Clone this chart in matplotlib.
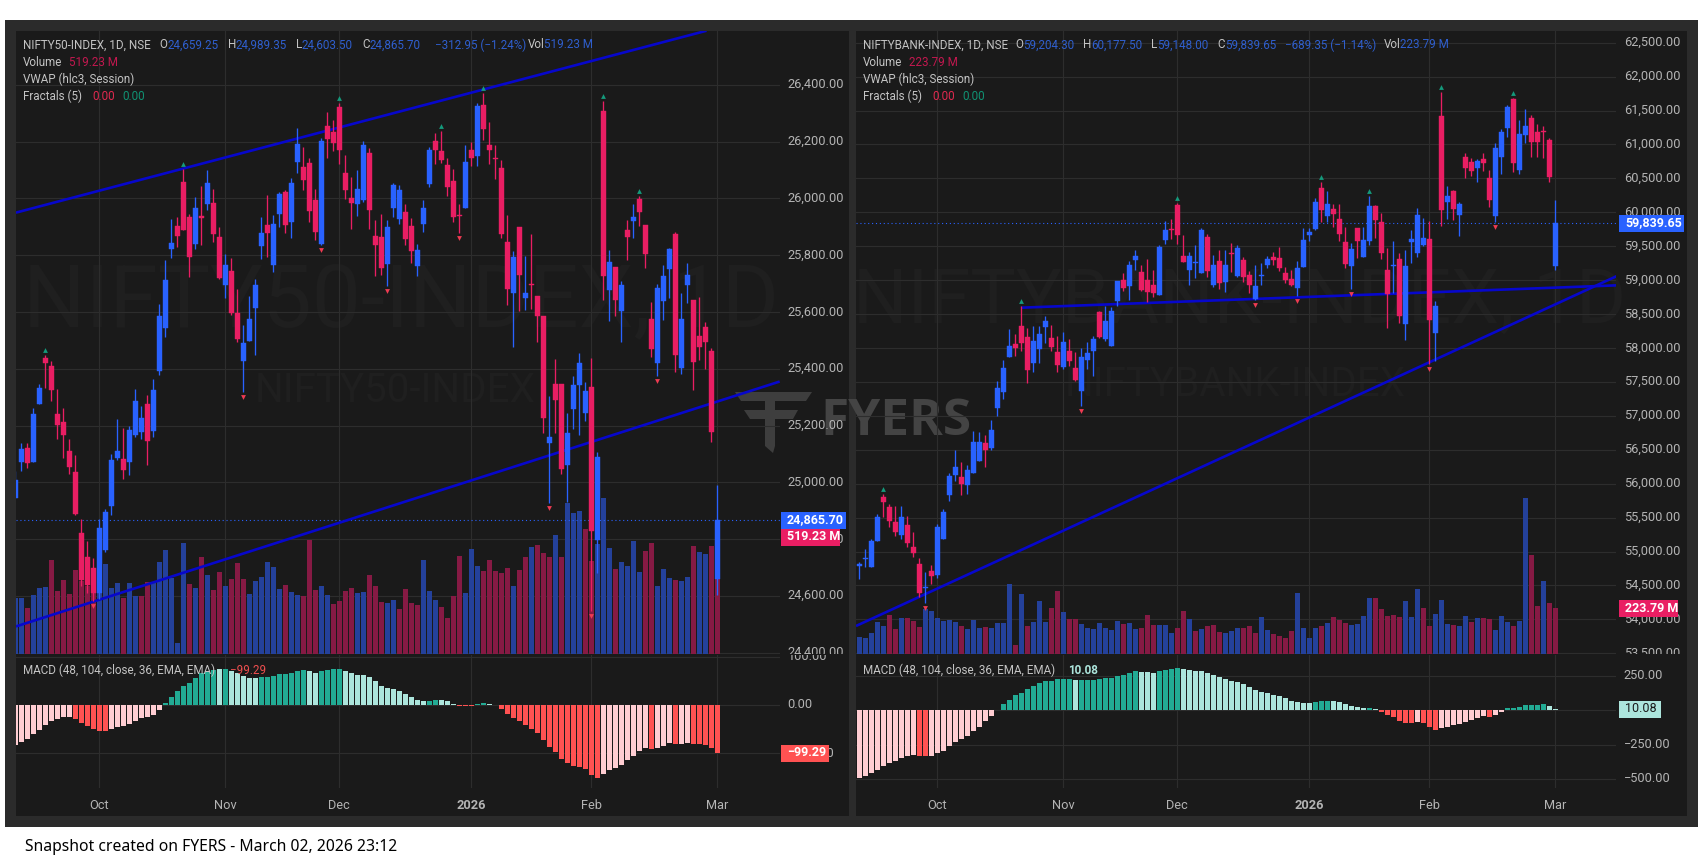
import matplotlib
matplotlib.use("Agg")
import matplotlib.pyplot as plt
from matplotlib.patches import Rectangle, Polygon
from matplotlib.transforms import Bbox, ScaledTranslation

W, H = 1703, 867
plt.rcParams['font.family'] = ['Roboto', 'DejaVu Sans']

# ---------- NIFTY50 ----------
left_open = [24944,25071,25120,25071,25275,25439,25411,25240,25212,25110,
25036,24822,24735,24697,24610,24760,24918,25084,25082,25071,
25166,25177,25277,25180,25391,25544,25821,25903,26058,25933,
25839,25938,25979,25983,25863,25696,25745,25597,25429,25499,
25615,25833,25905,25765,25945,26022,25917,26130,26110,26124,
25996,25838,26257,26234,26322,26088,26003,25980,25996,26160,
25868,25864,25769,25968,25929,25952,25903,25763,25910,26052,
26203,26168,26119,26062,25943,25968,26172,26150,26329,26188,
26143,26106,25845,25667,25900,25648,25700,25656,25585,25139,
25345,25345,25060,25257,25341,25244,25335,24797,26309,25678,
25760,25605,25889,25920,25998,25907,25576,25420,25637,25751,
25875,25404,25695,25642,25514,25546,25462,24659.25]
left_close = [25008,25116,25068,25240,25331,25419,25324,25201,25166,25054,
24888,24654,24637,24610,24840,24896,25078,25110,25043,25184,
25285,25228,25145,25324,25587,25713,25842,25868,25889,25795,
25965,25931,26053,25875,25720,25765,25597,25506,25491,25577,
25695,25877,25880,25910,26015,25906,26053,26192,26065,25957,
25881,26203,26209,26196,26171,26029,25985,26032,26190,25959,
25836,25754,25898,26047,26030,25858,25816,25819,25965,26171,
26171,26135,26040,25934,25939,26130,26141,26325,26244,26172,
26139,25875,25681,25792,25731,25667,25696,25585,25228,25158,
25289,25047,25175,25341,25420,25322,24827,25090,25727,25776,
25643,25696,25864,25934,25952,25805,25468,25684,25727,25821,
25450,25576,25730,25423,25478,25494,25178,24865.70]
left_high = [25041,25140,25140,25260,25347,25447,25429,25330,25263,25152,
25095,24871,24793,24734,24871,24906,25098,25222,25193,25199,
25330,25268,25309,25365,25629,25784,25928,25933,26105,25945,
26006,26043,26099,26032,25900,25805,25789,25680,25555,25657,
25716,25933,26012,25942,26023,26029,26073,26249,26180,26142,
26032,26213,26305,26275,26335,26154,26076,26099,26203,26178,
25924,25947,25924,26056,26047,25980,25930,25840,25994,26180,
26230,26236,26143,26103,25979,26187,26199,26335,26370,26269,
26190,26135,25943,25816,25900,25796,25875,25658,25587,25303,
25435,25347,25245,25373,25456,25353,25439,25107,26344,25818,
25760,25708,25924,25979,26009,25907,25634,25698,25766,25827,
25883,25667,25772,25642,25653,25566,25474,24989.35]
left_low = [24944,25041,25051,25071,25275,25332,25286,25153,25085,25029,
24884,24634,24610,24580,24590,24753,24885,25078,25012,25026,
25160,25152,25061,25160,25377,25511,25790,25828,25889,25722,
25821,25836,25960,25848,25715,25648,25590,25494,25318,25499,
25450,25787,25795,25742,25900,25877,25859,26090,26030,25916,
25855,25835,26141,26168,26123,25999,25893,25938,25988,25892,
25727,25730,25691,25935,25910,25837,25772,25728,25882,26040,
26120,26124,26007,25917,25879,25968,26115,26115,26205,26123,
26070,25860,25626,25476,25602,25608,25610,25494,25174,24926,
25172,25028,24932,25189,25166,25215,24548,24680,25643,25567,
25585,25494,25784,25860,25902,25756,25440,25373,25572,25650,
25390,25380,25630,25326,25430,25400,25143,24603.50]
left_vol = [390,386,316,407,455,464,651,437,513,413,
582,508,471,462,444,624,455,490,386,490,
404,404,497,497,635,721,524,79,767,483,
455,670,547,444,568,471,520,628,520,416,
506,534,635,601,450,478,430,409,404,790,
444,471,409,347,367,437,457,420,430,547,
471,363,351,374,312,450,353,340,651,437,
374,328,247,404,679,420,728,610,578,651,
578,561,596,471,582,672,742,755,700,672,
825,672,1046,977,991,866,644,762,1081,735,
589,638,610,783,568,714,769,471,589,527,
513,506,534,748,707,693,748,519.23]
left_vol_dir = ("bbrbbbrrrr" "rrrrbbbbrb" "brrbbbbbbr" "brbrrbrrrb" "bbbbbrbbrr" "rbbrrrrbbr"
                "rrbbrrrrbb" "brrrrbbbrr" "rrrbrrbrrr" "brbbbrrbbb" "rbbbbrrbbb" "rbbrbbrr")
left_macd = [-83,-77,-70,-60,-52,-41,-33,-29,-25,-25,
-29,-37,-43,-50,-53,-54,-50,-46,-43,-39,
-33,-27,-25,-21,-10,4,17,29,39,46,
56,66,70,72,75,75,70,66,60,56,
56,58,58,60,64,64,66,70,72,70,
66,70,72,75,75,70,66,62,62,58,
50,39,35,33,29,23,17,10,8,8,
10,10,8,2,-3,-3,-3,3,5,3,
-1,-8,-19,-27,-33,-41,-50,-58,-72,-87,
-97,-112,-120,-126,-128,-132,-145,-151,-143,-135,
-130,-124,-114,-106,-95,-89,-91,-89,-85,-79,
-81,-81,-79,-81,-81,-83,-89,-99.29]
left_macd_kind = "P"*10+"R"*6+"P"*9+"T"*9+"L"+"T"+"L"*5+"T"*8+"L"*2+"T"*4+"L"*14+"T"*2+"L"*3+"R"*3+"T"*2+"L"*2+"R"*17+"P"*8+"R"+"P"*3+"R"+"P"*2+"R"*5
left_up_fractals = [5,28,54,71,78,98,104]
left_down_fractals = [13,38,51,62,74,89,96,107]
left_yticks = [26400,26200,26000,25800,25600,25400,25200,25000,24800,24600,24400]
left_month_idx = [14,35,54,76,96,117]
left_trend_a = ([0.1,115.2],[25950,26591])
left_trend_b = ([0.1,127.4],[24492,25355])

# ---------- NIFTYBANK ----------
right_open = [54786,54890,54776,55158,55805,55653,55432,55241,55398,55065,
54815,54460,54712,54653,55182,55834,56128,56104,55976,56158,
56334,56604,56520,57123,57348,57863,58059,58324,58167,57784,
57985,58310,58147,57936,57716,57961,57706,57373,57828,57951,
58525,58132,58034,58697,59005,58907,59304,59123,59005,58932,
58785,59593,59760,60108,59358,59152,59250,59103,59642,58922,
59275,58966,59405,59054,59299,59079,58721,59064,59226,59338,
59324,59103,59015,58883,59187,59667,59750,60358,59946,60049,
59902,59564,59211,59765,59334,59578,60093,59853,59152,59208,
59309,58358,59564,59397,59520,59608,58220,61416,60152,60314,
59961,60809,60740,60652,60784,60505,59946,60813,61240,61666,
60622,61137,61387,61181,61200,61063,59204.30]
right_close = [54815,54898,55153,55506,55726,55447,55285,55516,55129,54982,
54384,54475,54639,55359,55589,56109,56241,56001,56197,56608,
56618,56496,56795,57417,57711,58034,57995,58069,57677,58108,
58206,58398,58010,57755,58093,57814,57530,57873,57926,58132,
58167,58393,58540,58981,58883,59226,59363,58858,58824,58810,
59486,59740,59745,59667,59270,59358,59265,59740,59142,59226,
58956,59226,59392,59471,59044,58927,58917,59079,59309,59299,
59177,59005,58932,59182,59593,59716,60152,60034,60123,59975,
59681,59240,59461,59578,59593,60093,59887,59397,58800,59218,
58476,59211,59603,59956,59618,58417,58623,60034,60240,60049,
60123,60652,60608,60755,60725,60181,60946,61181,61548,60730,
61161,61269,61034,61034,61190,60524,59839.65]
right_high = [54849,55031,55192,55550,55844,55697,55668,55668,55521,55285,
54898,54693,54800,55413,55624,56162,56501,56314,56280,56770,
56760,56721,56932,57510,57824,58280,58200,58623,58300,58319,
58319,58466,58344,58181,58240,58132,57936,58000,58093,58181,
58540,58623,58603,58990,59103,59275,59451,59226,59309,59152,
59520,59873,59897,60142,59667,59422,59525,59775,59677,59373,
59446,59437,59544,59520,59348,59142,59226,59250,59358,59422,
59485,59201,59152,59275,59765,59765,60206,60451,60319,60123,
60123,59790,59544,59765,59790,60240,60108,59985,59471,59584,
59397,59446,59740,60059,59912,59873,58687,61774,60387,60329,
60152,60867,60794,60779,60867,60622,61014,61235,61588,61690,
61357,61519,61431,61308,61274,61088,60177.50]
right_low = [54595,54766,54766,55158,55511,55364,55227,55178,55060,54923,
54335,54247,54521,54604,55182,55746,56040,55834,55854,56158,
56334,56246,56501,56996,57250,57863,57887,57951,57481,57652,
57775,58078,57951,57652,57691,57740,57520,57152,57691,57593,
58150,58100,58034,58620,58834,58702,59147,58834,58677,58750,
58785,59535,59603,59530,59265,58932,59035,59103,59044,58897,
58868,58819,59113,59044,58966,58809,58711,58932,59177,59226,
59128,58956,58907,58760,59187,59584,59740,59863,59863,59780,
59584,59177,58868,59324,59334,59520,59618,59309,58295,58809,
58368,58123,59250,59348,59505,57770,57814,59799,59902,59887,
59652,60500,60539,60446,60612,60074,59863,60563,61112,60593,
60563,61014,60808,60808,60794,60451,59148.00]
right_vol = [81,76,100,153,135,188,121,172,172,159,
129,216,208,172,159,164,155,135,121,164,
126,130,126,150,150,338,43,288,135,155,
256,155,222,304,203,169,169,145,126,121,
150,126,116,159,145,150,121,126,188,140,
140,140,101,126,208,169,111,121,135,140,
106,101,111,126,126,135,101,179,116,97,
87,77,111,295,126,77,126,135,150,179,
164,150,140,145,184,270,270,217,184,188,
179,256,179,314,222,135,193,261,145,140,
135,184,155,174,174,169,116,184,155,135,
159,753,478,232,353,246,223.79]
right_vol_dir = ("bbbbbrrbrr" "rbbbbbbrbb" "brbbbbrbrb" "bbrrbrrbbb" "bbbbrbbrrr" "bbbrrbrbrr"
                 "rbbbrrrbbr" "rrrbbbbrbr" "rrbbbbrrrr" "rbbbrrbbbr" "bbrbrrbbbr" "bbrrbrr")
right_macd = [-493,-479,-457,-435,-406,-384,-369,-347,-333,-326,
-333,-333,-333,-311,-296,-260,-231,-209,-187,-151,
-122,-78,-41,2,46,75,112,126,156,177,
199,214,214,228,228,228,221,221,221,221,
228,236,236,250,258,272,287,279,279,272,
287,294,301,309,301,294,287,287,272,258,
243,228,214,207,192,170,148,134,126,112,
104,90,68,61,53,53,61,68,68,68,
61,46,32,24,17,17,10,-12,-34,-49,
-78,-92,-92,-85,-92,-122,-143,-129,-122,-107,
-100,-85,-70,-56,-41,-49,-34,-12,17,17,
24,39,39,39,46,32,10.08]
right_macd_kind = "P"*10+"R"*2+"P"*11+"T"*13+"L"+"T"*10+"L"*3+"T"*4+"L"*22+"T"*3+"L"*6+"T"+"L"+"R"*6+"P"+"R"*3+"P"*8+"R"+"P"*2+"T"*7+"L"*2
right_up_fractals = [4,27,53,77,85,97,109]
right_down_fractals = [11,37,66,73,82,95,106]
right_yticks = [62500,62000,61500,61000,60500,60000,59500,59000,58500,58000,57500,57000,56500,56000,55500,55000,54500,54000,53500]
right_month_idx = [13,34,53,75,95,116]
right_trend_a = ([26.95,126.4],[58594,58924])
right_trend_b = ([-0.55,126.4],[53903,59066])

month_labels = ["Oct","Nov","Dec","2026","Feb","Mar"]

for a in (left_open,left_close,left_high,left_low,left_vol,left_macd):
    assert len(a)==118, len(a)
assert len(left_vol_dir)==118 and len(left_macd_kind)==118
for a in (right_open,right_close,right_high,right_low,right_vol,right_macd):
    assert len(a)==117, len(a)
assert len(right_vol_dir)==117 and len(right_macd_kind)==117

# ---------- style ----------
PANE = "#1a1a1a"; FRAME = "#2b2b2b"; GRID = "#2d2d2d"; LABEL = "#b4b4b4"
UP = "#2962ff"; DOWN = "#e91e63"; VUP = "#24419b"; VDOWN = "#861a44"
TREND = "#0707cc"; HEAD = "#c4c4c4"; VALBLUE = "#2f5fcf"; VALRED = "#c2184f"
MACD_C = {"T":"#22ab94","L":"#ace5dc","R":"#ff5252","P":"#ffcdd2"}
TICK_FS = 9.2

fig = plt.figure(figsize=(W/100, H/100), dpi=100, facecolor="white")

def axpx(x0, y0, x1, y1, **kw):
    return fig.add_axes([x0/W, 1-y1/H, (x1-x0)/W, (y1-y0)/H], **kw)

def pxbox(x0, y0, x1, y1):
    return Bbox.from_extents(x0, H-y1, x1, H-y0)

# background layer (pixel coordinates)
bg = axpx(0, 0, W, H, zorder=0); bg.set_xlim(0, W); bg.set_ylim(H, 0); bg.axis("off")
bg.add_patch(Rectangle((5,20),1693,807,fc=FRAME,ec="none"))
bg.add_patch(Rectangle((16,31),833,785,fc=PANE,ec="none"))
bg.add_patch(Rectangle((856,31),831,785,fc=PANE,ec="none"))
WM = "#1f1f1f"
bg.text(401,302,"NIFTY50-INDEX, 1D",color=WM,fontsize=63,ha="center",va="center",clip_on=True,
        clip_box=pxbox(16,31,780,654))
bg.text(1240,302,"NIFTYBANK-INDEX, 1D",color=WM,fontsize=55,ha="center",va="center",
        clip_box=pxbox(856,31,1616,654),clip_on=True)
bg.text(395,391,"NIFTY50-INDEX",color=WM,fontsize=29,ha="center",va="center")
bg.text(1235,385,"NIFTYBANK-INDEX",color=WM,fontsize=29,ha="center",va="center")
# FYERS logo
LOGO = "#3e3e3e"
bg.add_patch(Polygon([(735,392),(812,392),(806,401),(775,401),(775,410),(798,410),(793,419),(775,419),
                      (775,446),(773,453),(765,446),(765,419),(750,419),(744,410),(765,410),(765,401),(741,401)],
                     closed=True,fc=LOGO,ec="none"))
bg.text(820,422,"FYERS",color="#444444",fontsize=37,fontweight="bold",ha="left",va="center",family="Open Sans")

lift = ScaledTranslation(0, 1.2/72, fig.dpi_scale_trans)

def pane(x0, x1, xfirst, n, op, hi, lo, cl, vol, vdir, macd, kind, ups, downs, ylim, vtop,
         ticks, fmt_ticks, month_idx, tr_a, tr_b, mlim, mticks, mtick_labels, right_edge):
    xlim = ((x0-xfirst)/6, (x1-xfirst)/6)
    xs = list(range(n))
    # grid and price scale, below the volume bars
    ag = axpx(x0, 31, x1, 654, zorder=0.5); ag.patch.set_visible(False)
    ag.set_xlim(*xlim); ag.set_ylim(*ylim)
    ag.set_yticks(ticks); ag.set_yticklabels(fmt_ticks, color=LABEL, fontsize=TICK_FS)
    ag.yaxis.tick_right(); ag.tick_params(axis="y", length=0, pad=5.5)
    ag.set_xticks(month_idx); ag.tick_params(axis="x", length=0, labelbottom=False)
    ag.grid(True, color=GRID, linewidth=0.8)
    for s in ag.spines.values(): s.set_visible(False)
    for l in ag.get_yticklabels():
        l.set_clip_box(pxbox(x1, 31, right_edge, 654)); l.set_clip_on(True)
        l.set_transform(l.get_transform() + lift)
    # volume
    av = axpx(x0, 31, x1, 654, zorder=1); av.patch.set_visible(False)
    av.bar(xs, vol, width=0.83, color=[VUP if d=="b" else VDOWN for d in vdir], linewidth=0)
    av.set_xlim(*xlim); av.set_ylim(0, vtop); av.axis("off")
    # price
    ax = axpx(x0, 31, x1, 654, zorder=2); ax.patch.set_visible(False)
    ax.set_xlim(*xlim); ax.set_ylim(*ylim); ax.axis("off")
    ax.plot(*tr_a, color=TREND, lw=1.9, zorder=3, solid_capstyle="butt")
    ax.plot(*tr_b, color=TREND, lw=1.9, zorder=3, solid_capstyle="butt")
    ax.axhline(cl[-1], color=UP, lw=0.8, ls=(0,(1,2.5)), zorder=2.5)
    col = [UP if c>=o else DOWN for o,c in zip(op,cl)]
    ax.vlines(xs, lo, hi, colors=col, linewidth=0.95, zorder=4)
    ax.bar(xs, [abs(c-o) for o,c in zip(op,cl)], bottom=[min(o,c) for o,c in zip(op,cl)],
           width=0.8, color=col, edgecolor=col, linewidth=0.3, zorder=5)
    ppx = (ylim[1]-ylim[0])/623
    ax.scatter(ups, [hi[i]+5*ppx for i in ups], marker="^", s=12, color="#149a7c", linewidths=0, zorder=6)
    ax.scatter(downs, [lo[i]-5*ppx for i in downs], marker="v", s=12, color="#ef3b52", linewidths=0, zorder=6)
    # MACD
    am = axpx(x0, 655, x1, 788, zorder=3); am.patch.set_visible(False)
    am.bar(xs, macd, width=0.83, color=[MACD_C[k] for k in kind], linewidth=0, zorder=3)
    am.set_xlim(*xlim); am.set_ylim(*mlim)
    am.set_yticks(mticks); am.set_yticklabels(mtick_labels, color=LABEL, fontsize=TICK_FS)
    am.yaxis.tick_right(); am.tick_params(axis="y", length=0, pad=5.5)
    am.set_xticks(month_idx); am.set_xticklabels(month_labels, color=LABEL, fontsize=TICK_FS)
    am.tick_params(axis="x", length=0, pad=8)
    am.get_xticklabels()[3].set_fontweight("bold")
    am.grid(True, color=GRID, linewidth=0.8, zorder=0); am.set_axisbelow(True)
    for s in am.spines.values(): s.set_visible(False)
    for l in am.get_yticklabels():
        l.set_clip_box(pxbox(x1, 655, right_edge, 816)); l.set_clip_on(True)
        l.set_transform(l.get_transform() + lift)

pane(16, 780, 15.3, 118, left_open, left_high, left_low, left_close, left_vol, left_vol_dir,
     left_macd, left_macd_kind, left_up_fractals, left_down_fractals, (24395,26590), 4317,
     left_yticks, [f"{t:,.2f}" for t in left_yticks], left_month_idx, left_trend_a, left_trend_b,
     (-171.7,103.4), [100,0,-100], ["100.00","0.00","\u2212100.00"], 849)
pane(856, 1616, 859.3, 117, right_open, right_high, right_low, right_close, right_vol, right_vol_dir,
     right_macd, right_macd_kind, right_up_fractals, right_down_fractals, (53490,62672), 3009,
     right_yticks, [f"{t:,.2f}" for t in right_yticks], right_month_idx, right_trend_a, right_trend_b,
     (-566,403), [250,0,-250,-500], ["250.00","0.00","\u2212250.00","\u2212500.00"], 1687)

# overlay: legends, tags, footer
ov = axpx(0, 0, W, H, zorder=5); ov.patch.set_visible(False)
ov.set_xlim(0, W); ov.set_ylim(H, 0); ov.axis("off")

def T(x, y, s, c=HEAD, fs=8.4, **kw):
    ov.text(x, y, s, color=c, fontsize=fs, ha=kw.pop("ha","left"), va="center", **kw)

def tag(x0, x1, y0, y1, fc, s, c="white", weight="bold"):
    ov.add_patch(Rectangle((x0,y0),x1-x0,y1-y0,fc=fc,ec="none"))
    T(x0+6, (y0+y1)/2-0.5, s, c=c, fs=9.0, fontweight=weight)

# left legend
T(23,45,"NIFTY50-INDEX, 1D, NSE")
for x,s,c in [(159,"O",HEAD),(167,"24,659.25",VALBLUE),(228,"H",HEAD),(236,"24,989.35",VALBLUE),
              (296,"L",HEAD),(302,"24,603.50",VALBLUE),(362,"C",HEAD),(369,"24,865.70",VALBLUE),
              (435,"\u2212312.95 (\u22121.24%)",VALBLUE),(528,"Vol",HEAD),(544,"519.23 M",VALBLUE)]:
    T(x,45,s,c)
T(23,62,"Volume"); T(69,62,"519.23 M",VALRED)
T(23,79,"VWAP (hlc3, Session)")
T(23,96,"Fractals (5)"); T(92,96,"0.00","#e0294f"); T(122,96,"0.00","#109273")
T(23,670,"MACD (48, 104, close, 36, EMA, EMA)"); T(230,670,"\u221299.29","#ef4f4f")
# right legend
T(863,45,"NIFTYBANK-INDEX, 1D, NSE")
for x,s,c in [(1015,"O",HEAD),(1023,"59,204.30",VALBLUE),(1083,"H",HEAD),(1091,"60,177.50",VALBLUE),
              (1151,"L",HEAD),(1157,"59,148.00",VALBLUE),(1217,"C",HEAD),(1225,"59,839.65",VALBLUE),
              (1285,"\u2212689.35 (\u22121.14%)",VALBLUE),(1384,"Vol",HEAD),(1400,"223.79 M",VALBLUE)]:
    T(x,45,s,c)
T(863,62,"Volume"); T(909,62,"223.79 M",VALRED)
T(863,79,"VWAP (hlc3, Session)")
T(863,96,"Fractals (5)"); T(932,96,"0.00","#e0294f"); T(962,96,"0.00","#109273")
T(863,670,"MACD (48, 104, close, 36, EMA, EMA)"); T(1068,670,"10.08","#ace5dc",fontweight="bold")

tag(781,846,512,529,UP,"24,865.70")
tag(781,840,529,546,DOWN,"519.23 M")
tag(781,829,745,762,"#ff5252","\u221299.29")
tag(1619,1684,215,232,UP,"59,839.65")
tag(1619,1678,600,617,DOWN,"223.79 M")
tag(1619,1661,701,718,"#ace5dc","10.08",c="#1a1a1a",weight="normal")

ov.text(25,847,"Snapshot created on FYERS - March 02, 2026 23:12",color="black",fontsize=11.3,
        va="center",family="Noto Sans")

fig.savefig("out.png", dpi=100, facecolor="white")
